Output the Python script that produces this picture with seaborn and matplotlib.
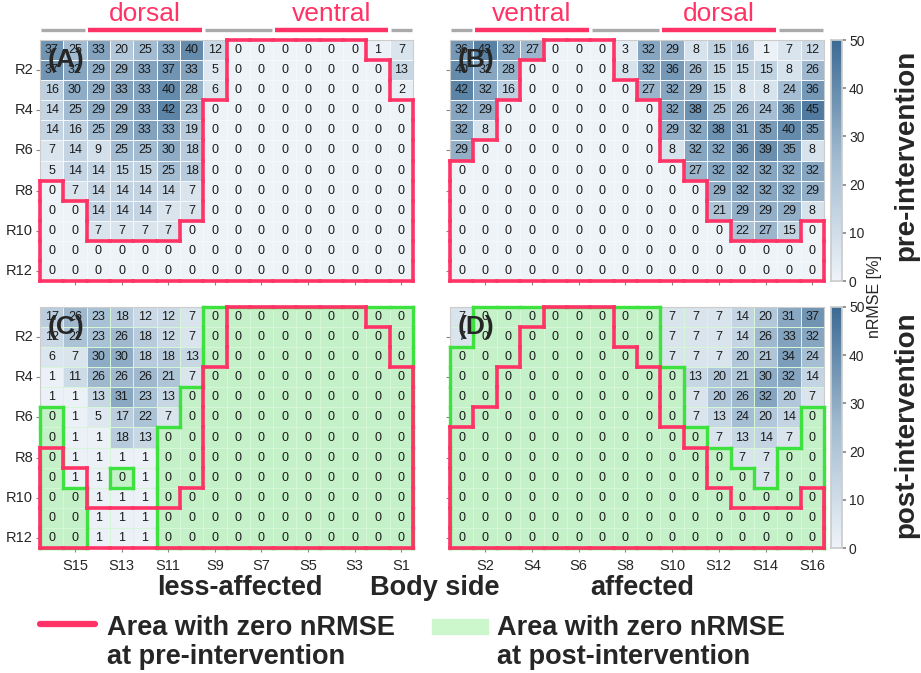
import numpy as np
import matplotlib.pyplot as plt
import seaborn as sns
from matplotlib.colors import LinearSegmentedColormap, ListedColormap
from matplotlib.collections import LineCollection
from matplotlib.lines import Line2D
from matplotlib.patches import Rectangle

sns.set_theme(style="white")
plt.rcParams["font.family"] = ["Liberation Sans", "DejaVu Sans"]

# ---------------- data (nRMSE %, rows R1..R12) ----------------
rows = [f"R{i}" for i in range(1, 13)]
cols_less = [f"S{i}" for i in range(16, 0, -1)]   # less-affected side, S16 .. S1
cols_aff = [f"S{i}" for i in range(1, 17)]        # affected side, S1 .. S16

pre_less = [
    [37, 25, 33, 20, 25, 33, 40, 12, 0, 0, 0, 0, 0, 0, 1, 7],
    [37, 32, 29, 29, 33, 37, 33, 5, 0, 0, 0, 0, 0, 0, 0, 13],
    [16, 30, 29, 33, 33, 40, 28, 6, 0, 0, 0, 0, 0, 0, 0, 2],
    [14, 25, 29, 29, 33, 42, 23, 0, 0, 0, 0, 0, 0, 0, 0, 0],
    [14, 16, 25, 29, 33, 33, 19, 0, 0, 0, 0, 0, 0, 0, 0, 0],
    [7, 14, 9, 25, 25, 30, 18, 0, 0, 0, 0, 0, 0, 0, 0, 0],
    [5, 14, 14, 15, 15, 25, 18, 0, 0, 0, 0, 0, 0, 0, 0, 0],
    [0, 7, 14, 14, 14, 14, 7, 0, 0, 0, 0, 0, 0, 0, 0, 0],
    [0, 0, 14, 14, 14, 7, 7, 0, 0, 0, 0, 0, 0, 0, 0, 0],
    [0, 0, 7, 7, 7, 7, 0, 0, 0, 0, 0, 0, 0, 0, 0, 0],
    [0, 0, 0, 0, 0, 0, 0, 0, 0, 0, 0, 0, 0, 0, 0, 0],
    [0, 0, 0, 0, 0, 0, 0, 0, 0, 0, 0, 0, 0, 0, 0, 0],
]

pre_aff = [
    [36, 43, 32, 27, 0, 0, 0, 3, 32, 29, 8, 15, 16, 1, 7, 12],
    [40, 32, 28, 0, 0, 0, 0, 8, 32, 36, 26, 15, 15, 15, 8, 26],
    [42, 32, 16, 0, 0, 0, 0, 0, 27, 32, 29, 15, 8, 8, 24, 36],
    [32, 29, 0, 0, 0, 0, 0, 0, 0, 32, 38, 25, 26, 24, 36, 45],
    [32, 8, 0, 0, 0, 0, 0, 0, 0, 29, 32, 38, 31, 35, 40, 35],
    [29, 0, 0, 0, 0, 0, 0, 0, 0, 8, 32, 32, 36, 39, 35, 8],
    [0, 0, 0, 0, 0, 0, 0, 0, 0, 0, 27, 32, 32, 32, 32, 32],
    [0, 0, 0, 0, 0, 0, 0, 0, 0, 0, 0, 29, 32, 32, 32, 29],
    [0, 0, 0, 0, 0, 0, 0, 0, 0, 0, 0, 21, 29, 29, 29, 8],
    [0, 0, 0, 0, 0, 0, 0, 0, 0, 0, 0, 0, 22, 27, 15, 0],
    [0, 0, 0, 0, 0, 0, 0, 0, 0, 0, 0, 0, 0, 0, 0, 0],
    [0, 0, 0, 0, 0, 0, 0, 0, 0, 0, 0, 0, 0, 0, 0, 0],
]

post_less = [
    [17, 26, 23, 18, 12, 12, 7, 0, 0, 0, 0, 0, 0, 0, 0, 0],
    [12, 22, 23, 26, 18, 12, 7, 0, 0, 0, 0, 0, 0, 0, 0, 0],
    [6, 7, 30, 30, 18, 18, 13, 0, 0, 0, 0, 0, 0, 0, 0, 0],
    [1, 11, 26, 26, 26, 21, 7, 0, 0, 0, 0, 0, 0, 0, 0, 0],
    [1, 1, 13, 31, 23, 13, 0, 0, 0, 0, 0, 0, 0, 0, 0, 0],
    [0, 1, 5, 17, 22, 7, 0, 0, 0, 0, 0, 0, 0, 0, 0, 0],
    [0, 1, 1, 18, 13, 0, 0, 0, 0, 0, 0, 0, 0, 0, 0, 0],
    [0, 1, 1, 1, 1, 0, 0, 0, 0, 0, 0, 0, 0, 0, 0, 0],
    [0, 1, 1, 0, 1, 0, 0, 0, 0, 0, 0, 0, 0, 0, 0, 0],
    [0, 0, 1, 1, 1, 0, 0, 0, 0, 0, 0, 0, 0, 0, 0, 0],
    [0, 0, 1, 1, 1, 0, 0, 0, 0, 0, 0, 0, 0, 0, 0, 0],
    [0, 0, 1, 1, 1, 0, 0, 0, 0, 0, 0, 0, 0, 0, 0, 0],
]

post_aff = [
    [7, 0, 0, 0, 0, 0, 0, 0, 0, 7, 7, 7, 14, 20, 31, 37],
    [7, 0, 0, 0, 0, 0, 0, 0, 0, 7, 7, 7, 14, 26, 33, 32],
    [0, 0, 0, 0, 0, 0, 0, 0, 0, 7, 7, 7, 20, 21, 34, 24],
    [0, 0, 0, 0, 0, 0, 0, 0, 0, 0, 13, 20, 21, 30, 32, 14],
    [0, 0, 0, 0, 0, 0, 0, 0, 0, 0, 7, 20, 26, 32, 20, 7],
    [0, 0, 0, 0, 0, 0, 0, 0, 0, 0, 7, 13, 24, 20, 14, 0],
    [0, 0, 0, 0, 0, 0, 0, 0, 0, 0, 0, 7, 13, 14, 7, 0],
    [0, 0, 0, 0, 0, 0, 0, 0, 0, 0, 0, 0, 7, 7, 0, 0],
    [0, 0, 0, 0, 0, 0, 0, 0, 0, 0, 0, 0, 0, 7, 0, 0],
    [0, 0, 0, 0, 0, 0, 0, 0, 0, 0, 0, 0, 0, 0, 0, 0],
    [0, 0, 0, 0, 0, 0, 0, 0, 0, 0, 0, 0, 0, 0, 0, 0],
    [0, 0, 0, 0, 0, 0, 0, 0, 0, 0, 0, 0, 0, 0, 0, 0],
]

# muscle regions above the top panels (label, number of columns)
regions_less = [("", 2), ("dorsal", 5), ("", 3), ("ventral", 5), ("", 1)]
regions_aff = [("", 1), ("ventral", 5), ("", 3), ("dorsal", 5), ("", 2)]

RED = "#ff3366"
GREEN_LINE = "#3ee23e"
GREEN_FILL = "#c4f1c8"
cmap = LinearSegmentedColormap.from_list("nrmse", ["#eef3f8", "#a3bcd1", "#3c6a93"])


def zero_outline(ax, values, color, lw, z):
    mask = np.asarray(values) == 0
    pad = np.pad(mask, 1, constant_values=False)
    segs = []
    for r in range(mask.shape[0]):
        for c in range(mask.shape[1]):
            if not mask[r, c]:
                continue
            if not pad[r, c + 1]:
                segs.append([(c, r), (c + 1, r)])
            if not pad[r + 2, c + 1]:
                segs.append([(c, r + 1), (c + 1, r + 1)])
            if not pad[r + 1, c]:
                segs.append([(c, r), (c, r + 1)])
            if not pad[r + 1, c + 2]:
                segs.append([(c + 1, r), (c + 1, r + 1)])
    lc = LineCollection(segs, colors=color, linewidths=lw, capstyle="projecting",
                        zorder=z, clip_on=False)
    ax.add_collection(lc)


def draw_panel(ax, values, cols, letter, show_x, show_y, cbar_ax=None, post=False):
    arr = np.asarray(values)
    sns.heatmap(arr, ax=ax, cmap=cmap, vmin=0, vmax=50, annot=True, fmt="d",
                annot_kws={"fontsize": 9, "color": "#1a1a1a"},
                linewidths=0.5, linecolor="#f4f7fb",
                cbar=cbar_ax is not None, cbar_ax=cbar_ax)
    if post:
        # light green fill over the cells with zero nRMSE after the intervention
        sns.heatmap(arr, ax=ax, mask=arr != 0, cmap=ListedColormap([GREEN_FILL]),
                    cbar=False, annot=False, linewidths=0.5, linecolor="#d6f6d8")
    ax.set_xticks(np.arange(1, 16, 2) + 0.5)
    ax.set_yticks(np.arange(1, 12, 2) + 0.5)
    ax.set_xticklabels(cols[1::2] if show_x else [], rotation=0)
    ax.set_yticklabels(rows[1::2] if show_y else [], rotation=0)
    ax.tick_params(axis="both", length=3, width=0.8, color="#888888",
                   labelsize=10.5, pad=2, bottom=True, left=True)
    ax.tick_params(axis="x", pad=5)
    for s in ax.spines.values():
        s.set_visible(True)
        s.set_color("#cccccc")
        s.set_linewidth(0.8)
    ax.text(1.1, 1.0, letter, fontsize=19, fontweight="bold", ha="center", va="center",
            zorder=6)


def region_bars(ax, regions):
    start = 0
    for label, n in regions:
        color = RED if label else "#aaaaaa"
        lw = 3.2 if label else 2.4
        ax.plot([start + 0.06, start + n - 0.06], [-0.5, -0.5], color=color, lw=lw,
                solid_capstyle="butt", clip_on=False)
        if label:
            ax.text(start + n / 2, -0.95, label, color=RED, fontsize=19, ha="center",
                    va="baseline", clip_on=False)
        start += n


W, H = 921, 673
fig = plt.figure(figsize=(W / 100, H / 100), dpi=100)


def px_axes(x0, y0, x1, y1):
    return fig.add_axes([x0 / W, 1 - y1 / H, (x1 - x0) / W, (y1 - y0) / H])


axA = px_axes(40, 40, 413, 281)
axB = px_axes(450, 40, 824, 281)
axC = px_axes(40, 307, 413, 548)
axD = px_axes(450, 307, 824, 548)
cax1 = px_axes(831, 40, 842, 281)
cax2 = px_axes(831, 307, 842, 548)

draw_panel(axA, pre_less, cols_less, "(A)", False, True)
draw_panel(axB, pre_aff, cols_aff, "(B)", False, False, cbar_ax=cax1)
draw_panel(axC, post_less, cols_less, "(C)", True, True, post=True)
draw_panel(axD, post_aff, cols_aff, "(D)", True, False, cbar_ax=cax2, post=True)

for ax, vals in [(axA, pre_less), (axB, pre_aff)]:
    zero_outline(ax, vals, RED, 2.6, 5)
zero_outline(axC, post_less, GREEN_LINE, 2.4, 4)
zero_outline(axD, post_aff, GREEN_LINE, 2.4, 4)
zero_outline(axC, pre_less, RED, 2.6, 5)
zero_outline(axD, pre_aff, RED, 2.6, 5)

region_bars(axA, regions_less)
region_bars(axB, regions_aff)

for cax in (cax1, cax2):
    cax.set_yticks([0, 10, 20, 30, 40, 50])
    cax.tick_params(labelsize=10, length=3, color="#888888", pad=2)
    for s in cax.spines.values():
        s.set_visible(True)
        s.set_color("#cccccc")

fig.text(874 / W, 1 - 296 / H, "nRMSE [%]", rotation=90, fontsize=11.5,
         ha="center", va="center")
fig.text(906 / W, 1 - 155 / H, "pre-intervention", rotation=90, fontsize=20,
         fontweight="bold", ha="center", va="center")
fig.text(906 / W, 1 - 425 / H, "post-intervention", rotation=90, fontsize=20,
         fontweight="bold", ha="center", va="center")

fig.text(240 / W, 1 - 588 / H, "less-affected", fontsize=19.5, fontweight="bold",
         ha="center", va="center")
fig.text(435 / W, 1 - 588 / H, "Body side", fontsize=19.5, fontweight="bold",
         ha="center", va="center")
fig.text(642 / W, 1 - 588 / H, "affected", fontsize=19.5, fontweight="bold",
         ha="center", va="center")

# legend
fig.add_artist(Line2D([40 / W, 95 / W], [1 - 624 / H, 1 - 624 / H], color=RED, lw=4.5,
                      transform=fig.transFigure))
fig.add_artist(Rectangle((432 / W, 1 - 634 / H), 56 / W, 15 / H, color="#ccf6cc",
                         transform=fig.transFigure))
fig.text(107 / W, 1 - 628 / H, "Area with zero nRMSE", fontsize=19.5, fontweight="bold",
         va="center")
fig.text(107 / W, 1 - 657 / H, "at pre-intervention", fontsize=19.5, fontweight="bold",
         va="center")
fig.text(497 / W, 1 - 628 / H, "Area with zero nRMSE", fontsize=19.5, fontweight="bold",
         va="center")
fig.text(497 / W, 1 - 657 / H, "at post-intervention", fontsize=19.5, fontweight="bold",
         va="center")

fig.savefig("out.png", dpi=100)
